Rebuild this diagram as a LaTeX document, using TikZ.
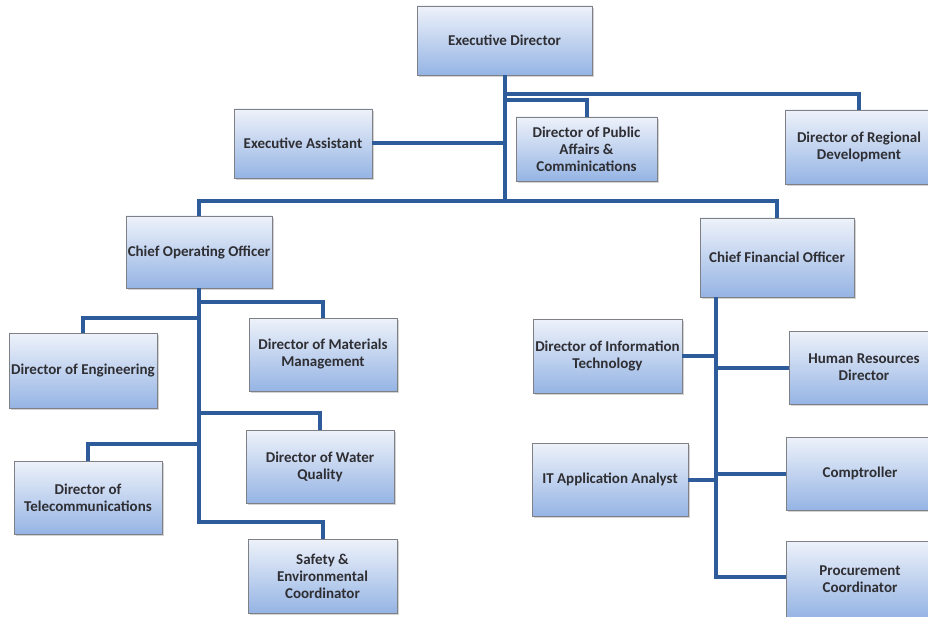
\documentclass[tikz,border=0pt]{standalone}
\usepackage{fontspec}
\setmainfont{Carlito}
\usepackage{tikz}
\usetikzlibrary{calc}
\usetikzlibrary{shadows}
\definecolor{linkblue}{HTML}{2E5B9A}
\definecolor{boxtop}{HTML}{EEF2FA}
\definecolor{boxbottom}{HTML}{95B4E4}
\definecolor{boxedge}{HTML}{7F7F86}
\definecolor{posttext}{HTML}{2E2E33}
\tikzset{
	post/.style={draw=boxedge, line width=0.8pt, top color=boxtop, bottom color=boxbottom,
		drop shadow={shadow xshift=1.5pt, shadow yshift=-2pt, opacity=0.35},
		text=posttext, font=\bfseries\fontsize{15}{17}\selectfont,
		align=center, inner sep=1pt},
	link/.style={draw=linkblue, line width=4pt}
}
\newcommand{\post}[6] % name, x in px, y in px, width, height, text
{
	\node[post, minimum width=#4pt, minimum height=#5pt] (#1) at (#2,#3) {#6};
}

\begin{document}
\begin{tikzpicture}[x=1pt, y=-1pt]
	% page: 928 x 617 px, y downwards
	\useasboundingbox (0,0) rectangle (928,617);
	
	% top level
	\post{ed}{504.5}{40.5}{175}{69}{Executive Director};
	\post{ea}{303}{143.5}{138}{69}{Executive Assistant};
	\post{pub}{586.5}{149}{141}{64}{Director of Public\\Affairs \&\\Comminications};
	\post{reg}{859}{147}{148}{74}{Director of Regional\\Development};
	\post{coo}{199}{252}{146}{72}{Chief Operating Officer};
	\post{cfo}{777}{257.5}{154}{79}{Chief Financial Officer};
	
	% operations
	\post{eng}{83}{370.5}{148}{75}{Director of Engineering};
	\post{mat}{323}{354.5}{148}{73}{Director of Materials\\Management};
	\post{tel}{88}{497.5}{148}{73}{Director of\\Telecommunications};
	\post{wat}{320}{466.5}{148}{73}{Director of Water\\Quality};
	\post{saf}{322.5}{576}{149}{74}{Safety \&\\Environmental\\Coordinator};
	
	% finance
	\post{it}{607.5}{356}{149}{74}{Director of Information\\Technology};
	\post{itaa}{610}{479.5}{156}{73}{IT Application Analyst};
	\post{hr}{864}{367.5}{150}{73}{Human Resources\\Director};
	\post{comp}{860}{473.5}{148}{73}{Comptroller};
	\post{proc}{860}{579}{148}{76}{Procurement\\Coordinator};
	
	% executive director links
	\coordinate (edbus) at (ed.south |- 0,201);
	\draw[link] (ed.south) -- (edbus) -| (coo.north);
	\draw[link] (edbus) -| (cfo.north);
	\draw[link] (ed.south |- 0,94) -| (reg.north);
	\draw[link] (ed.south |- 0,100) -| (pub.north);
	\draw[link] (ea.east) -- (ea.east -| ed.south);
	
	% coo links
	\coordinate (cootrunk) at (coo.south |- 0,522);
	\draw[link] (coo.south) -- (cootrunk) -| (saf.north);
	\draw[link] (coo.south |- 0,302) -| (mat.north);
	\draw[link] (coo.south |- 0,318) -| (eng.north);
	\draw[link] (coo.south |- 0,413) -| (wat.north);
	\draw[link] (coo.south |- 0,444) -| (tel.north);
	
	% cfo links
	\coordinate (cfotop) at ([xshift=16pt]cfo.south west);
	\coordinate (cfotrunk) at (cfotop |- 0,577);
	\draw[link] (cfotop) -- (cfotrunk) -- (cfotrunk -| proc.west);
	\draw[link] (it.east) -- (it.east -| cfotop);
	\draw[link] (hr.west) -- (hr.west -| cfotop);
	\draw[link] (itaa.east) -- (itaa.east -| cfotop);
	\draw[link] (comp.west) -- (comp.west -| cfotop);
	
\end{tikzpicture}
\end{document}
